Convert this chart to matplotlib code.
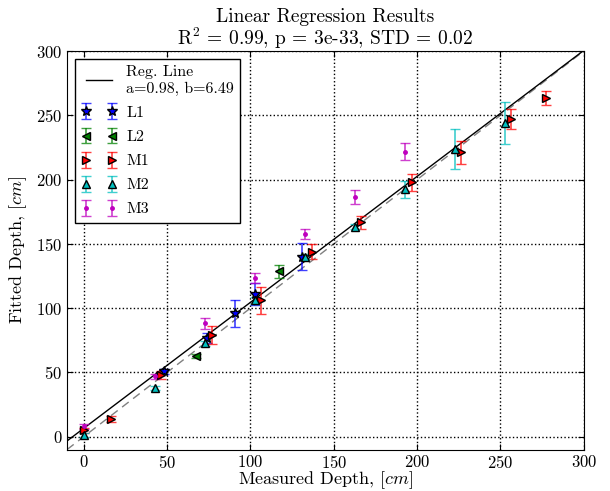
import matplotlib
matplotlib.use("Agg")
import matplotlib.pyplot as plt
import numpy as np

plt.rcParams['font.family'] = ['cmr10', 'DejaVu Serif']
plt.rcParams['mathtext.fontset'] = 'cm'
plt.rcParams['axes.formatter.use_mathtext'] = True
plt.rcParams['xtick.direction'] = 'in'
plt.rcParams['ytick.direction'] = 'in'
plt.rcParams['xtick.top'] = True
plt.rcParams['ytick.right'] = True

# Data
L1_x = [48, 74, 91, 102.6, 131]
L1_y = [51, 77, 96, 111, 140]
L1_err = [2, 4, 10.4, 8.8, 10.4]

L2_x = [67.6, 117.2]
L2_y = [63, 128.5]
L2_err = [1.5, 5.2]

M1_x = [0, 16.6, 46.6, 77, 106.6, 137, 166.6, 197, 226.6, 256.6, 277.2]
M1_y = [5, 13.7, 48, 79.3, 106, 144, 166.8, 198, 221.3, 247.1, 263.7]
M1_err = [2, 2, 3, 6.9, 10.2, 6.1, 5, 6.7, 9, 7.5, 5.6]

M2_x = [0, 42.6, 72.6, 102.8, 132.6, 162.8, 192.6, 222.8, 252.6]
M2_y = [1, 38, 72.8, 106, 140.1, 163.4, 192.5, 223.6, 243.8]
M2_err = [1.5, 1.5, 2, 3, 2, 2, 6.5, 15.5, 16.2]

M3_x = [0, 42.6, 72.6, 102.8, 132.6, 162.8, 192.6]
M3_y = [8, 47, 88.3, 123.3, 157.5, 186.3, 221.7]
M3_err = [2, 2, 4.3, 4.1, 4.1, 5.4, 6.5]

reg_a = 0.98
reg_b = 6.49
x_range = [-10, 300]

fig = plt.figure(figsize=(6.1, 4.91), dpi=100)
ax = fig.add_axes([0.110, 0.0845, 0.847, 0.8115])

xs = np.array(x_range, dtype=float)
ax.plot(xs, reg_a * xs + reg_b, 'k-', lw=1.0,
        label='Reg. Line\na=0.98, b=6.49', zorder=2)
ax.plot(xs, xs, '--', color='gray', lw=1.0, dashes=(6, 4), zorder=1)

series = [
    (L1_x, L1_y, L1_err, '*', 'b', 'b', 'L1', 7),
    (L2_x, L2_y, L2_err, '<', 'g', 'g', 'L2', 6),
    (M1_x, M1_y, M1_err, '>', 'r', 'r', 'M1', 6),
    (M2_x, M2_y, M2_err, '^', 'c', 'c', 'M2', 6),
    (M3_x, M3_y, M3_err, '.', 'm', 'm', 'M3', 5),
]
for x, y, e, mk, fc, ec, lab, ms in series:
    c = ax.errorbar(x, y, yerr=e, fmt=mk, color=fc, mfc=fc,
                    mec='k' if mk != '.' else fc, ms=ms, mew=1.0,
                    ecolor=ec, elinewidth=1.2, capsize=3.5, capthick=1.2,
                    label=lab, zorder=3)
    for art in c[1] + c[2]:
        art.set_alpha(0.75)

ax.set_xlim(-10, 300)
ax.set_ylim(-10, 300)
ax.set_xticks([0, 50, 100, 150, 200, 250, 300])
ax.set_yticks([0, 50, 100, 150, 200, 250, 300])
ax.tick_params(labelsize=12, length=4)
ax.tick_params(axis='x', pad=3)
ax.grid(True, linestyle=':', color='k', lw=1.0)

ax.set_xlabel('Measured Depth, $[cm]$', fontsize=13, labelpad=-1)
ax.set_ylabel('Fitted Depth, $[cm]$', fontsize=13, labelpad=5)
ax.set_title('Linear Regression Results\n$\\mathrm{R}^2$ = 0.99, p = 3e-33, STD = 0.02',
             fontsize=14, linespacing=1.0, pad=4)

leg = ax.legend(loc='upper left', numpoints=2, fontsize=11.5, fancybox=False,
                framealpha=1, edgecolor='k', borderaxespad=0.5,
                handlelength=2.2, labelspacing=0.62, handletextpad=0.6,
                borderpad=0.4)
leg.get_frame().set_linewidth(1.0)

fig.savefig('out.png', dpi=100, facecolor='white')
